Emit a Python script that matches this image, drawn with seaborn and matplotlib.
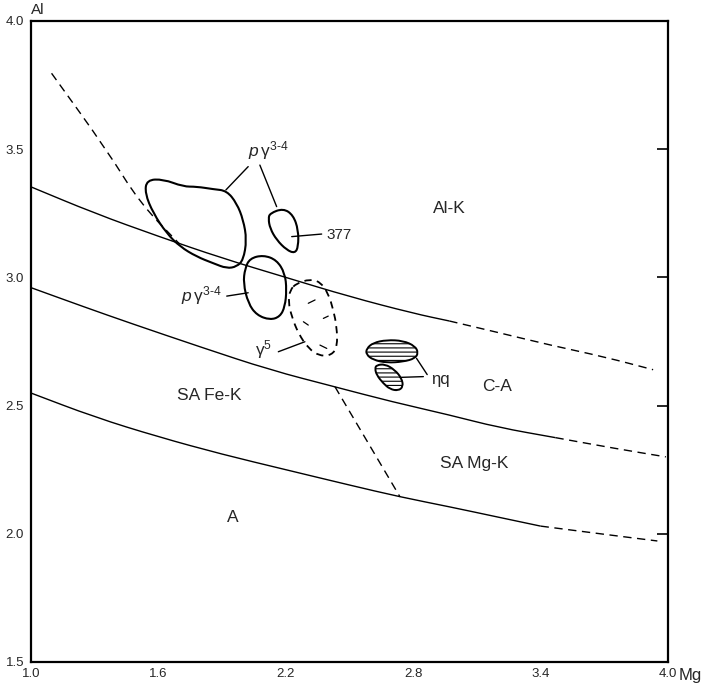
"""Al vs Mg classification diagram with field boundaries and sample fields."""

import matplotlib
import matplotlib.pyplot as plt
import numpy as np
import seaborn as sns
from matplotlib.patches import PathPatch
from matplotlib.path import Path

matplotlib.use("Agg")

# ------------------------------------------------------------------
# Field boundaries (Mg, Al)
# ------------------------------------------------------------------
upper_mg = [1.0, 1.3, 1.6, 1.9, 2.2, 2.5, 2.8, 2.97]
upper_al = [3.353, 3.25, 3.16, 3.075, 3.0, 2.925, 2.86, 2.83]
upper_ext_mg = [2.97, 3.2, 3.45, 3.7, 3.93]
upper_ext_al = [2.83, 2.785, 2.735, 2.69, 2.64]

middle_mg = [1.0, 1.25, 1.466, 1.8, 2.126, 2.432, 2.7, 2.973, 3.2, 3.47]
middle_al = [2.96, 2.885, 2.822, 2.728, 2.639, 2.573, 2.515, 2.463, 2.415, 2.375]
middle_ext_mg = [3.47, 3.75, 3.99]
middle_ext_al = [2.375, 2.333, 2.30]

lower_mg = [1.0, 1.3, 1.6, 1.9, 2.2, 2.5, 2.738, 2.973, 3.2, 3.40]
lower_al = [2.549, 2.455, 2.378, 2.31, 2.25, 2.19, 2.144, 2.105, 2.065, 2.03]
lower_ext_mg = [3.40, 3.7, 3.95]
lower_ext_al = [2.03, 1.998, 1.972]

steep_mg = [1.097, 1.357, 1.513, 1.70]
steep_al = [3.796, 3.497, 3.29, 3.13]
divide_mg = [2.432, 2.738]
divide_al = [2.573, 2.144]

# ------------------------------------------------------------------
# Sample fields (outlines)
# ------------------------------------------------------------------
big_mg = [1.545, 1.623, 1.717, 1.780, 1.859, 1.922, 1.969, 2.000, 2.016,
          2.000, 1.969, 1.922, 1.859, 1.780, 1.702, 1.639, 1.576, 1.537]
big_al = [3.380, 3.383, 3.354, 3.354, 3.344, 3.338, 3.289, 3.224, 3.146,
          3.068, 3.042, 3.035, 3.055, 3.081, 3.120, 3.172, 3.250, 3.328]

s377_mg = [2.126, 2.188, 2.235, 2.259, 2.259, 2.243, 2.204, 2.157, 2.126, 2.118]
s377_al = [3.250, 3.269, 3.243, 3.185, 3.120, 3.094, 3.107, 3.146, 3.191, 3.230]

mid_mg = [2.031, 2.094, 2.157, 2.196, 2.204, 2.196, 2.173, 2.126, 2.063,
          2.023, 2.000, 2.008]
mid_al = [3.074, 3.087, 3.068, 3.016, 2.951, 2.886, 2.847, 2.834, 2.853,
          2.899, 2.977, 3.035]

g5_mg = [2.251, 2.314, 2.361, 2.400, 2.424, 2.440, 2.443, 2.416, 2.361,
         2.306, 2.259, 2.228, 2.212, 2.220]
g5_al = [2.977, 2.993, 2.983, 2.938, 2.873, 2.808, 2.730, 2.697, 2.693,
         2.723, 2.782, 2.847, 2.905, 2.951]
g5_strokes = [
    ([2.306, 2.338], [2.899, 2.912]),
    ([2.377, 2.400], [2.840, 2.849]),
    ([2.283, 2.306], [2.827, 2.814]),
    ([2.361, 2.393], [2.736, 2.723]),
]

eq_upper_mg = [2.581, 2.612, 2.675, 2.753, 2.809, 2.824, 2.809, 2.753,
               2.675, 2.612, 2.578]
eq_upper_al = [2.723, 2.745, 2.756, 2.753, 2.732, 2.706, 2.684, 2.671,
               2.667, 2.678, 2.700]
eq_lower_mg = [2.628, 2.667, 2.714, 2.746, 2.753, 2.730, 2.691, 2.659,
               2.628, 2.620]
eq_lower_al = [2.658, 2.662, 2.639, 2.606, 2.574, 2.558, 2.564, 2.587,
               2.619, 2.645]

# Region labels: (text, Mg, Al)
region_labels = [
    ("Al-K", 2.969, 3.267),
    ("C-A", 3.195, 2.576),
    ("SA Fe-K", 1.838, 2.541),
    ("SA Mg-K", 3.087, 2.276),
    ("A", 1.949, 2.064),
]

x_ticks = [1.0, 1.6, 2.2, 2.8, 3.4, 4.0]
y_ticks = [1.5, 2.0, 2.5, 3.0, 3.5, 4.0]

# ------------------------------------------------------------------
sns.set_style("white")
plt.rcParams["font.family"] = ["Liberation Sans", "DejaVu Sans"]
plt.rcParams["mathtext.fontset"] = "custom"
plt.rcParams["mathtext.rm"] = "Liberation Sans"
plt.rcParams["mathtext.it"] = "Liberation Sans:italic"
plt.rcParams["hatch.linewidth"] = 0.8

fig = plt.figure(figsize=(7.07, 6.88), dpi=100)
ax = fig.add_axes([0.0438, 0.0378, 0.9010, 0.9317])


def smooth(xs, ys, closed=False):
    """Quadratic-spline path through the read points (drawn in data coords)."""
    pts = np.column_stack([xs, ys])
    if closed:
        mids = (pts + np.roll(pts, -1, axis=0)) / 2
        verts = [mids[-1]]
        codes = [Path.MOVETO]
        for p, m in zip(pts, mids):
            verts += [p, m]
            codes += [Path.CURVE3, Path.CURVE3]
        verts.append(mids[-1])
        codes.append(Path.CLOSEPOLY)
    else:
        mids = (pts[:-1] + pts[1:]) / 2
        verts = [pts[0], mids[0]]
        codes = [Path.MOVETO, Path.LINETO]
        for p, m in zip(pts[1:-1], mids[1:]):
            verts += [p, m]
            codes += [Path.CURVE3, Path.CURVE3]
        verts.append(pts[-1])
        codes.append(Path.LINETO)
    return Path(verts, codes)


def draw(xs, ys, closed=False, lw=1.0, dashes=None, **kw):
    style = (0, dashes) if dashes else "solid"
    patch = PathPatch(smooth(xs, ys, closed), linewidth=lw, linestyle=style,
                      edgecolor="black", capstyle="butt", joinstyle="round",
                      **({"facecolor": "none"} | kw))
    ax.add_patch(patch)


dash = (6, 4)
draw(upper_mg, upper_al)
draw(middle_mg, middle_al)
draw(lower_mg, lower_al)
for xs, ys in [(upper_ext_mg, upper_ext_al), (middle_ext_mg, middle_ext_al),
               (lower_ext_mg, lower_ext_al), (steep_mg, steep_al)]:
    draw(xs, ys, dashes=dash)
sns.lineplot(x=divide_mg, y=divide_al, color="black", linewidth=1.0,
             dashes=False, linestyle=(0, dash), ax=ax)

draw(big_mg, big_al, closed=True, lw=1.5)
draw(s377_mg, s377_al, closed=True, lw=1.5)
draw(mid_mg, mid_al, closed=True, lw=1.5)
draw(g5_mg, g5_al, closed=True, lw=1.3, dashes=(4, 3))
for xs, ys in g5_strokes:
    ax.plot(xs, ys, color="black", linewidth=0.9)

for xs, ys in [(eq_lower_mg, eq_lower_al), (eq_upper_mg, eq_upper_al)]:
    draw(xs, ys, closed=True, lw=1.4, facecolor="white", hatch="----",
         zorder=3)

# Leaders and sample labels
leaders = [
    ([2.023, 1.918], [3.432, 3.341]),
    ([2.078, 2.157], [3.438, 3.276]),
    ([2.228, 2.369], [3.159, 3.169]),
    ([1.922, 2.023], [2.927, 2.940]),
    ([2.165, 2.290], [2.710, 2.749]),
    ([2.816, 2.866], [2.684, 2.621]),
    ([2.738, 2.848], [2.610, 2.613]),
]
for xs, ys in leaders:
    sns.lineplot(x=xs, y=ys, color="black", linewidth=1.0, sort=False,
                 estimator=None, ax=ax, zorder=4)

pg = r"$p\,\mathrm{γ}^{3\text{-}4}$"
ax.text(2.02, 3.47, pg, fontsize=12.5, ha="left", va="baseline")
ax.text(1.90, 2.93, pg, fontsize=12.5, ha="right", va="center")
ax.text(2.393, 3.166, "377", fontsize=11, ha="left", va="center")
ax.text(2.137, 2.718, r"$\mathrm{γ}^{5}$", fontsize=12.5, ha="right",
        va="center")
ax.text(2.885, 2.602, "ηq", fontsize=12, ha="left", va="center")

for text, mg, al in region_labels:
    ax.text(mg, al, text, fontsize=12.5, ha="center", va="center")

# Axes styling
ax.set_xlim(1.0, 4.0)
ax.set_ylim(1.5, 4.0)
ax.set_xticks(x_ticks)
ax.set_yticks(y_ticks)
ax.set_xticklabels([f"{t:.1f}" for t in x_ticks])
ax.set_yticklabels([f"{t:.1f}" for t in y_ticks])
ax.tick_params(direction="in", length=8, width=1.2, labelsize=9.5,
               right=True, pad=4, color="black")
ax.tick_params(axis="y", pad=5)
for spine in ax.spines.values():
    spine.set_color("black")
    spine.set_linewidth(1.6)
ax.grid(False)

ax.annotate("Mg", xy=(1.0, 0.0), xycoords="axes fraction",
            xytext=(8, -9.5), textcoords="offset points",
            fontsize=12, ha="left", va="center")
ax.annotate("Al", xy=(0.0, 1.0), xycoords="axes fraction",
            xytext=(0, 8), textcoords="offset points",
            fontsize=11, ha="left", va="center")

fig.savefig("out.png", dpi=100)
